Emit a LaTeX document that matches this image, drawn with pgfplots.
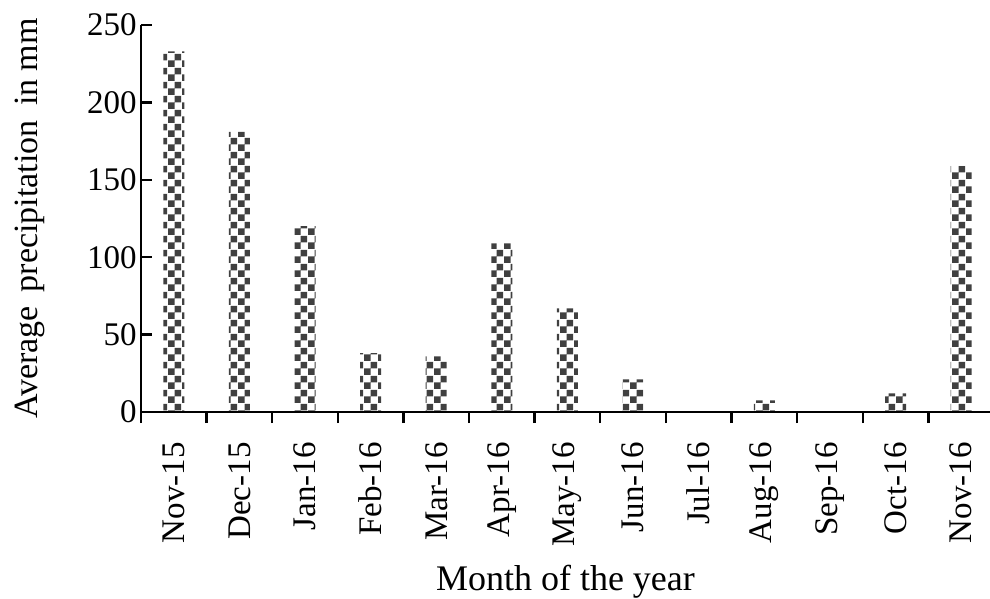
\documentclass[border=0pt]{standalone}
\usepackage{pgfplots}
\pgfplotsset{compat=1.18}
\usepackage{fontspec}
\setmainfont{Liberation Serif}
\usetikzlibrary{patterns.meta}
\pgfdeclarepattern{
  name=mychecker,
  type=uncolored,
  bottom left={\pgfpoint{0pt}{0pt}},
  top right={\pgfpoint{7pt}{7pt}},
  tile size={\pgfpoint{7pt}{7pt}},
  code={
    \pgfpathrectangle{\pgfpointorigin}{\pgfpoint{3.5pt}{3.5pt}}
    \pgfpathrectangle{\pgfpoint{3.5pt}{3.5pt}}{\pgfpoint{3.5pt}{3.5pt}}
    \pgfusepath{fill}
  }
}
\begin{document}
\begin{tikzpicture}
\begin{axis}[
  at={(0pt,0pt)}, anchor=south west,
  scale only axis, width=424.5pt, height=193.5pt,
  xmin=-0.5, xmax=12.44, ymin=0, ymax=250,
  axis line style={draw=none},
  every tick/.style={line width=1.2pt, black},
  ytick={0,50,100,150,200,250},
  ytick pos=left,
  xtick pos=bottom,
  ytick align=inside,
  xtick align=outside,
  major tick length=5.5pt,
  minor tick length=5.5pt,
  xtick={0,...,12},
  xticklabels={Nov-15,Dec-15,Jan-16,Feb-16,Mar-16,Apr-16,May-16,Jun-16,Jul-16,Aug-16,Sep-16,Oct-16,Nov-16},
  major x tick style={draw=none},
  minor xtick={-0.5,0.5,...,11.5},
  tick label style={font=\fontsize{16.5}{19}\selectfont},
  /pgf/number format/assume math mode=true,
  yticklabel style={inner xsep=2pt},
  xticklabel style={rotate=90, anchor=east, inner xsep=9.5pt, inner ysep=0pt},
  every axis x label/.style={at={(rel axis cs:0.5,0)}, yshift=-89pt, anchor=base},
  every axis y label/.style={at={(rel axis cs:0,0.5)}, xshift=-51.5pt, rotate=90, anchor=base},
  xlabel style={font=\fontsize{18}{21}\selectfont},
  ylabel style={font=\fontsize{17}{20}\selectfont},
  xlabel={Month of the year},
  ylabel={Average\, precipitation\, in mm},
  ybar, bar width=10.5pt,
  clip=false,
]
\addplot[draw=none, pattern=mychecker, pattern color=black!75] coordinates {
(0,233) (1,181) (2,120) (3,38) (4,36) (5,109) (6,67) (7,21) (8,0) (9,7.5) (10,0) (11,12) (12,159)
};
\draw[line width=1.2pt, black] (rel axis cs:0,1) -- (rel axis cs:0,0) -- (rel axis cs:1,0);
\end{axis}
\pgfresetboundingbox
\path[use as bounding box] (-70.5pt,-93.5pt) rectangle (424.5pt,206pt);
\end{tikzpicture}
\end{document}
